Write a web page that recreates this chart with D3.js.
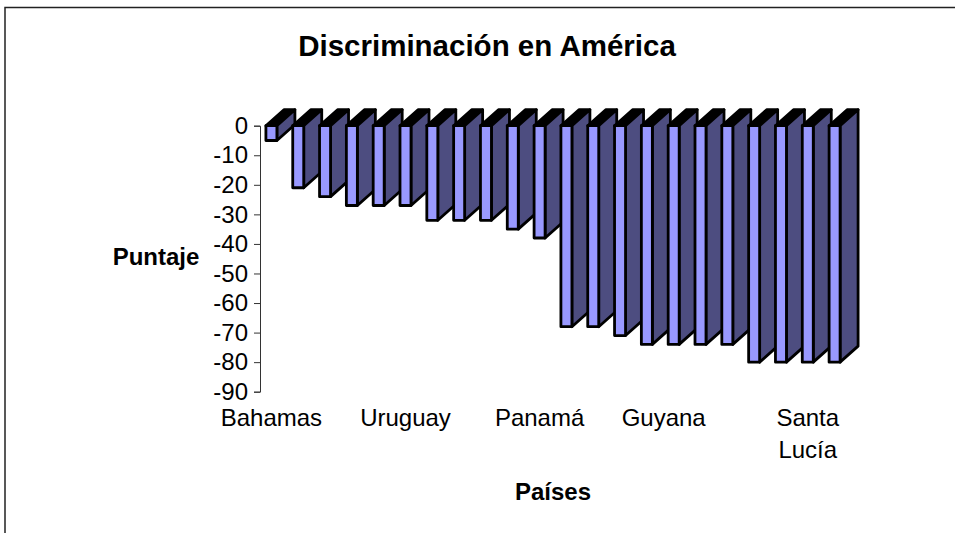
<!DOCTYPE html>
<html>
<head>
<meta charset="utf-8">
<script src="https://cdn.jsdelivr.net/npm/d3@7"></script>
<style>
  html, body { margin: 0; padding: 0; background: #fff; }
  text { font-family: "Liberation Sans", Arial, sans-serif; fill: #000; }
</style>
</head>
<body>
<div id="chart"></div>
<script>
// values, one per country (only every fifth name is printed)
var puntajes = [-5, -21, -24, -27, -27, -27, -32, -32, -32, -35, -38, -68, -68, -71, -74, -74, -74, -74, -80, -80, -80, -80];
var labelIndex = [0, 5, 10, 15, 20];
var labelNames = ["Bahamas", "Uruguay", "Panamá", "Guyana", "Santa Lucía"];
var yTicks = [0, -10, -20, -30, -40, -50, -60, -70, -80, -90];

var width = 955, height = 533;
var depthX = 18, depthY = 16; // 3d offset of the bars

var svg = d3.select("#chart")
  .append("svg")
  .attr("width", width)
  .attr("height", height)
  .style("display", "block");

// outer chart frame, only top and left show in the picture
svg.append("path")
  .attr("fill", "none")
  .attr("stroke", "#222")
  .attr("stroke-width", 1.5)
  .attr("d", d3.line()([[5, 533], [5, 7.5], [955, 7.5]]));

var x = d3.scaleBand()
  .domain(d3.range(puntajes.length))
  .range([258, 848])
  .paddingInner(0.59)
  .paddingOuter(0.295);

var y = d3.scaleLinear()
  .domain([0, -90])
  .range([125.7, 391.7]);

// bars, left to right so each one covers the side of the previous one
var bars = svg.append("g")
  .selectAll("g")
  .data(puntajes)
  .enter()
  .append("g")
  .attr("stroke", "#000")
  .attr("stroke-width", 2.8)
  .attr("stroke-linejoin", "round");

bars.append("polygon") // top
  .attr("fill", "#000")
  .attr("points", function (d, i) {
    var l = x(i), r = l + x.bandwidth(), t = y(0);
    return [[l, t], [r, t], [r + depthX, t - depthY], [l + depthX, t - depthY]].join(" ");
  });

bars.append("polygon") // side
  .attr("fill", "#4d4d80")
  .attr("points", function (d, i) {
    var r = x(i) + x.bandwidth(), t = y(0), b = y(d);
    return [[r, t], [r + depthX, t - depthY], [r + depthX, b - depthY], [r, b]].join(" ");
  });

bars.append("rect") // front
  .attr("fill", "#9999ff")
  .attr("x", function (d, i) { return x(i); })
  .attr("y", y(0))
  .attr("width", x.bandwidth())
  .attr("height", function (d) { return y(d) - y(0); });

// Y axis, plain hyphen for the minus sign like the original
var yAxis = svg.append("g")
  .attr("transform", "translate(260,0)")
  .call(d3.axisLeft(y).tickValues(yTicks).tickSize(6).tickPadding(6).tickFormat(function (d) { return String(d); }));
yAxis.selectAll("text").style("font-size", "24px").style("font-family", "Liberation Sans");
yAxis.selectAll("line,path").attr("stroke", "#333");

// X axis labels, no line or ticks in the picture
var xAxis = svg.append("g")
  .attr("transform", "translate(0,402)")
  .call(d3.axisBottom(x).tickValues(labelIndex).tickSize(0).tickPadding(6).tickFormat(function () { return ""; }));
xAxis.select(".domain").remove();

var xLabels = xAxis.selectAll("text")
  .style("font-size", "24px")
  .style("font-family", "Liberation Sans")
  .attr("dy", null)
  .attr("y", 24);

xLabels.each(function (d, i) {
  var words = labelNames[i].split(" ");
  var t = d3.select(this);
  // Guyana sits a bit left of its tick in the original
  if (labelNames[i] == "Guyana") t.attr("x", -10);
  words.forEach(function (w, j) {
    t.append("tspan")
      .attr("x", t.attr("x") || 0)
      .attr("dy", j ? 32 : 0)
      .text(w);
  });
});

// Titles
function addText(txt, px, py, size) {
  svg.append("text")
    .attr("x", px)
    .attr("y", py)
    .attr("text-anchor", "middle")
    .style("font-size", size + "px")
    .style("font-weight", "bold")
    .text(txt);
}
addText("Discriminación en América", 487, 56, 29.5);
addText("Puntaje", 156, 265, 24);
addText("Países", 553, 500, 24);
</script>
</body>
</html>
